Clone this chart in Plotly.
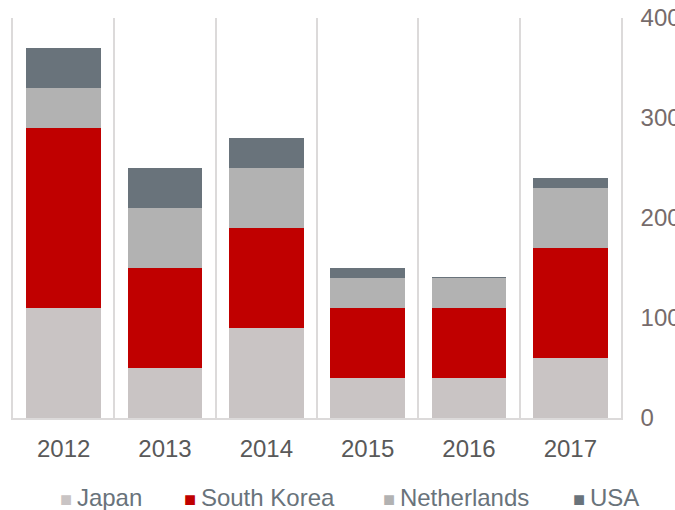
import plotly.graph_objects as go

years = ["2012", "2013", "2014", "2015", "2016", "2017"]
japan = [110, 50, 90, 40, 40, 60]
south_korea = [180, 100, 100, 70, 70, 110]
netherlands = [40, 60, 60, 30, 30, 60]
usa = [40, 40, 30, 10, 1, 10]

series = [
    ("Japan", japan, "#C9C4C4"),
    ("South Korea", south_korea, "#C00000"),
    ("Netherlands", netherlands, "#B2B2B2"),
    ("USA", usa, "#69737B"),
]

fig = go.Figure()
for name, vals, color in series:
    fig.add_trace(go.Bar(
        x=years, y=vals, name=name,
        marker=dict(color=color, line=dict(width=0)),
        showlegend=False,
    ))

# legend drawn as text so the swatch sits tight against the label
legend_x = [0.074, 0.278, 0.605, 0.918]  # paper coords of each swatch
for (name, vals, color), lx in zip(series, legend_x):
    fig.add_annotation(
        xref="paper", yref="paper", x=lx, y=-0.198,
        xanchor="left", yanchor="middle", showarrow=False,
        text=f'<span style="color:{color};font-size:20px">■</span>\u2009{name}',
        font=dict(size=24, color="#69737B"),
    )

fig.update_layout(
    barmode="stack",
    bargap=0.26,
    width=675, height=510,
    margin=dict(l=13, r=54, t=18, b=92),
    plot_bgcolor="white",
    paper_bgcolor="white",
    font=dict(family="Liberation Sans, Arial, sans-serif", size=24, color="#595959"),
    showlegend=False,
)

fig.update_xaxes(
    automargin=False,
    tickson="boundaries", showgrid=True, gridcolor="#DCDADA", gridwidth=1.5,
    showline=True, linecolor="#DCDADA", linewidth=1.5,
    ticks="", ticklabelstandoff=8, tickfont=dict(color="#595959"),
)
# y labels run off the right edge, like the original
fig.update_yaxes(
    automargin=False, ticklabeloverflow="allow",
    side="right", range=[0, 400], dtick=100, showgrid=False, zeroline=False,
    showline=True, mirror=True, linecolor="#DCDADA", linewidth=1.5,
    ticks="", ticklabelstandoff=13,
    tickfont=dict(color="#766B6B"),
)

# drop the default page margin so the figure fills the window without scrollbars
fig.write_html(
    "out.html",
    config={"displayModeBar": False},
    post_script="document.body.style.margin='0';document.body.style.overflow='hidden';",
)
